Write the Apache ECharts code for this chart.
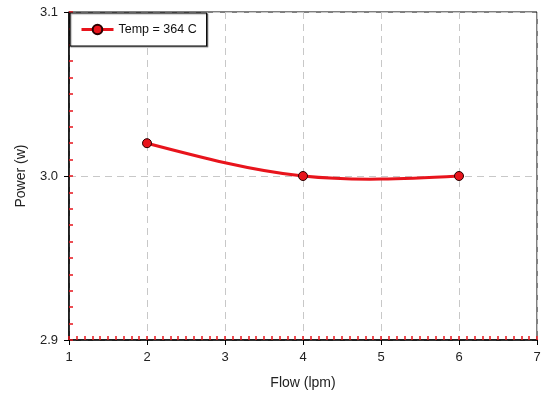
<!DOCTYPE html>
<html>
<head>
<meta charset="utf-8">
<script src="https://cdn.jsdelivr.net/npm/echarts@6/dist/echarts.min.js"></script>
<style>html,body{margin:0;padding:0;background:#fff}#c{width:546px;height:397px}</style>
</head>
<body>
<div id="c"></div>
<script>
const flow = [2, 4, 6];
const power = [3.02, 3.0, 3.0];
const seriesName = 'Temp = 364 C';
const xTitle = 'Flow (lpm)';
const yTitle = 'Power (w)';

// natural cubic spline second derivatives (used only to shape the drawn curve)
function naturalSplineM(xs, ys) {
  const n = xs.length, M = new Array(n).fill(0);
  if (n < 3) return M;
  const a = [], b = [], c = [], d = [];
  for (let i = 1; i < n - 1; i++) {
    const h0 = xs[i] - xs[i - 1], h1 = xs[i + 1] - xs[i];
    a.push(h0); b.push(2 * (h0 + h1)); c.push(h1);
    d.push(6 * ((ys[i + 1] - ys[i]) / h1 - (ys[i] - ys[i - 1]) / h0));
  }
  const m = b.length;
  for (let i = 1; i < m; i++) {
    const w = a[i] / b[i - 1];
    b[i] -= w * c[i - 1]; d[i] -= w * d[i - 1];
  }
  const sol = new Array(m);
  sol[m - 1] = d[m - 1] / b[m - 1];
  for (let i = m - 2; i >= 0; i--) sol[i] = (d[i] - c[i] * sol[i + 1]) / b[i];
  for (let i = 0; i < m; i++) M[i + 1] = sol[i];
  return M;
}
const M = naturalSplineM(flow, power);

const FONT = 'Liberation Sans, Arial, sans-serif';
const RED = '#e8141c';
const chart = echarts.init(document.getElementById('c'));
const gridLine = { show: true, lineStyle: { color: '#c8c8c8', type: [7, 5], width: 1 } };
chart.setOption({
  animation: false,
  grid: { left: 69, right: 9, top: 12, bottom: 57, show: true, borderColor: '#000', borderWidth: 1, backgroundColor: '#fff' },
  legend: {
    left: 70, top: 13, orient: 'vertical',
    padding: [10, 10, 10, 10],
    backgroundColor: '#fff', borderColor: '#000', borderWidth: 1.2,
    shadowColor: 'rgba(0,0,0,0.35)', shadowOffsetX: 1, shadowOffsetY: 1, shadowBlur: 1,
    itemWidth: 32, itemHeight: 12,
    lineStyle: { opacity: 1, color: RED, width: 3 },
    textStyle: { fontFamily: FONT, fontSize: 12.5, color: '#111' },
    data: [seriesName]
  },
  xAxis: [{
    type: 'value', min: 1, max: 7, interval: 1, position: 'bottom',
    name: xTitle, nameLocation: 'middle', nameGap: 36,
    nameTextStyle: { fontFamily: FONT, fontSize: 14, color: '#222' },
    axisLine: { show: true, onZero: false, lineStyle: { color: '#000', width: 1.5 } },
    axisTick: { show: true, inside: false, length: 5, lineStyle: { color: '#000' } },
    axisLabel: { fontFamily: FONT, fontSize: 13, color: '#222', margin: 11 },
    splitLine: gridLine
  }, {
    type: 'value', min: 1, max: 7, interval: 0.1, position: 'bottom',
    axisLine: { show: false, onZero: false },
    axisTick: { show: true, inside: true, length: 4, lineStyle: { color: RED, width: 1.5 } },
    axisLabel: { show: false }, splitLine: { show: false }
  }],
  yAxis: [{
    type: 'value', min: 2.9, max: 3.1, interval: 0.1, position: 'left',
    name: yTitle, nameLocation: 'middle', nameGap: 41, nameRotate: 90,
    nameTextStyle: { fontFamily: FONT, fontSize: 14, color: '#222' },
    axisLine: { show: true, onZero: false, lineStyle: { color: '#000', width: 1.5 } },
    axisTick: { show: true, inside: false, length: 5, lineStyle: { color: '#000' } },
    axisLabel: { fontFamily: FONT, fontSize: 13, color: '#222', margin: 11, formatter: v => v.toFixed(1) },
    splitLine: gridLine
  }, {
    type: 'value', min: 2.9, max: 3.1, interval: 0.01, position: 'left',
    axisLine: { show: false, onZero: false },
    axisTick: { show: true, inside: true, length: 4, lineStyle: { color: RED, width: 1.5 } },
    axisLabel: { show: false }, splitLine: { show: false }
  }],
  series: [{
    type: 'custom', xAxisIndex: 0, yAxisIndex: 0, z: 4, silent: true,
    data: flow.map((f, i) => [f, power[i]]),
    renderItem: function (params, api) {
      const i = params.dataIndex;
      if (i >= flow.length - 1) return null;
      const x0 = flow[i], x1 = flow[i + 1], y0 = power[i], y1 = power[i + 1];
      const h = x1 - x0, s = (y1 - y0) / h;
      const d0 = s - h * (2 * M[i] + M[i + 1]) / 6;
      const d1 = s + h * (M[i] + 2 * M[i + 1]) / 6;
      const p0 = api.coord([x0, y0]), p1 = api.coord([x1, y1]);
      const c0 = api.coord([x0 + h / 3, y0 + d0 * h / 3]);
      const c1 = api.coord([x1 - h / 3, y1 - d1 * h / 3]);
      return {
        type: 'bezierCurve',
        shape: { x1: p0[0], y1: p0[1], x2: p1[0], y2: p1[1], cpx1: c0[0], cpy1: c0[1], cpx2: c1[0], cpy2: c1[1] },
        style: { stroke: RED, lineWidth: 3, fill: null }
      };
    }
  }, {
    name: seriesName, type: 'line', xAxisIndex: 0, yAxisIndex: 0,
    data: flow.map((f, i) => [f, power[i]]),
    symbol: 'circle', symbolSize: 9,
    lineStyle: { color: RED, width: 3, opacity: 0 },
    itemStyle: { color: RED, borderColor: '#2a0000', borderWidth: 1 },
    z: 5
  }]
});
</script>
</body>
</html>
